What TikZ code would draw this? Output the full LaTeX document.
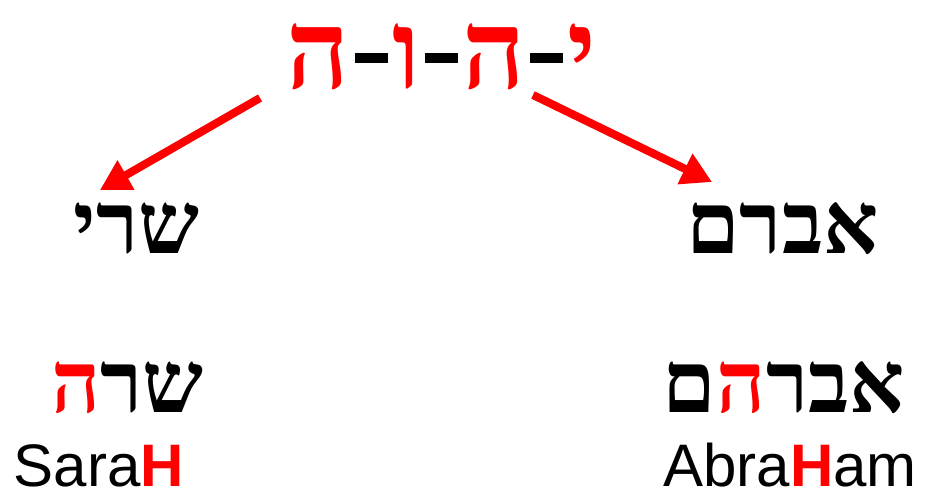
\documentclass[tikz,border=0pt]{standalone}
\usepackage{fontspec}
\usetikzlibrary{arrows.meta}
\TeXXeTstate=1
\newfontfamily\hebfont[Script=Hebrew]{Liberation Serif}
\newfontfamily\latfont{Liberation Sans}
\definecolor{hred}{RGB}{255,0,0}
\tikzset{
  txt/.style={anchor=base, inner sep=0pt, outer sep=0pt},
  bigheb/.style={txt, font=\fontsize{110}{110}\hebfont\bfseries},
  heb/.style={txt, font=\fontsize{86}{86}\hebfont\bfseries},
  lat/.style={txt, font=\fontsize{60}{60}\latfont},
  redarrow/.style={draw=hred, line width=8pt, -{Triangle[length=30pt,width=32pt]}},
  shadowarrow/.style={draw=black, opacity=0.18, line width=8pt, -{Triangle[length=30pt,width=32pt]}},
}
\newcommand{\rh}[1]{\textcolor{hred}{#1}}
\newcommand{\hy}{\hspace{4.5pt}\rule[25pt]{33pt}{10pt}\hspace{4.5pt}}
\begin{document}
\begin{tikzpicture}[x=1pt,y=-1pt]
\useasboundingbox (0,0) rectangle (927,491);
% top name
\node[bigheb] (top) at (441.5,88) {\rh{ה}\hy\rh{ו}\hy\rh{ה}\hy\rh{י}};
% second row
\node[heb] (sarai) at (136.5,253) {\beginR שרי\endR};
\node[heb] (avram) at (782.5,253) {\beginR אברם\endR};
% third row
\node[heb] (sarah) at (127.5,412) {\rh{ה}\beginR שר\endR};
\node[heb] (avraham) at (784,412) {\beginR ם\endR\rh{ה}\beginR אבר\endR};
% latin
\node[lat] (sarahL) at (99,486) {Sara\rh{\bfseries H}};
\node[lat] (abrahamL) at (790,486) {Abra\rh{\bfseries H}am};
% arrows
\coordinate (ls) at (260,98);
\coordinate (le) at (100,190);
\coordinate (rs) at (533,95);
\coordinate (re) at (712,182);
\begin{scope}[shift={(2,3)}]
\draw[shadowarrow] (ls) -- (le);
\draw[shadowarrow] (rs) -- (re);
\end{scope}
\draw[redarrow] (ls) -- (le);
\draw[redarrow] (rs) -- (re);
\end{tikzpicture}
\end{document}
